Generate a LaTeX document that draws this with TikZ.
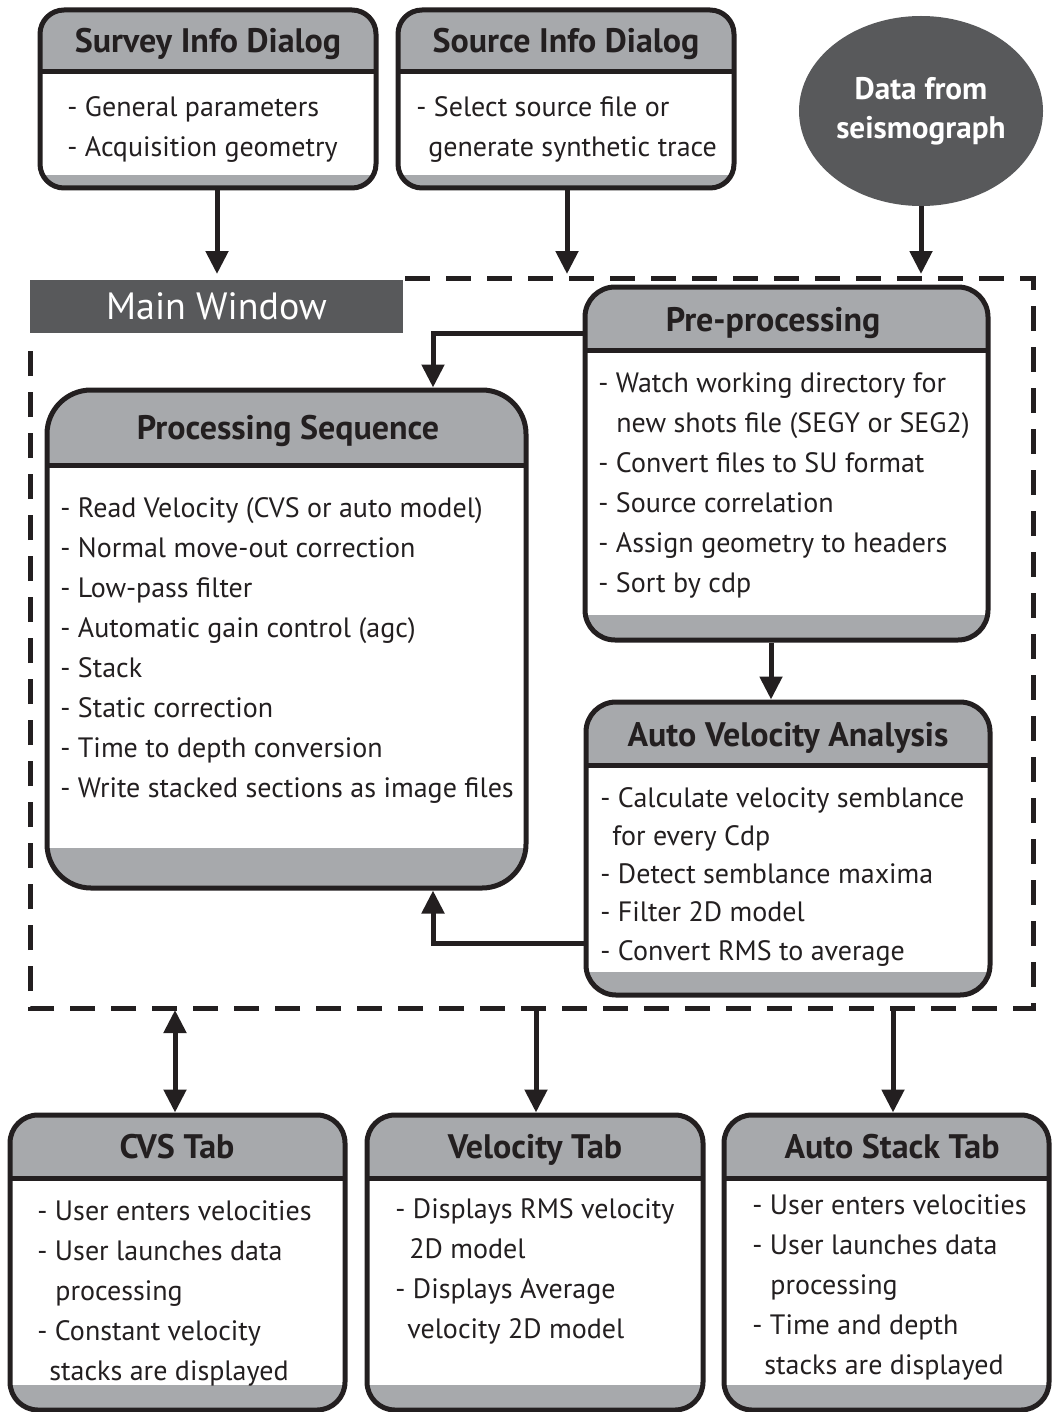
\documentclass[tikz,border=0pt]{standalone}
\usepackage{fontspec}
\setmainfont{PT Sans}
\usetikzlibrary{arrows.meta,shapes.geometric}
\definecolor{headgray}{HTML}{A7A9AC}
\definecolor{mwgray}{HTML}{58595B}
\definecolor{inkc}{HTML}{231F20}
\tikzset{
  tip/.tip={Triangle[length=11.5pt,width=11pt]},
  arr/.style={line width=2.5pt, draw=inkc, -tip},
  dblarr/.style={line width=2.5pt, draw=inkc, tip-tip},
  frameline/.style={line width=2.5pt, draw=inkc, dash pattern=on 12.5pt off 8pt},
  panelborder/.style={draw=inkc, line width=2.5pt, inner sep=0pt},
  paneltitle/.style={font=\fontsize{17}{20}\selectfont\bfseries, text=inkc, anchor=base, inner sep=0pt},
  panelbody/.style={font=\fontsize{14}{20}\selectfont, text=inkc, anchor=base west, align=left, inner sep=0pt},
}
% #1 name, #2 x1, #3 y1, #4 x2, #5 y2, #6 separator y, #7 strip y, #8 radius
\newcommand\panelbox[8]{%
  \begin{scope}
    \clip[rounded corners=#8] (#2,#3) rectangle (#4,#5);
    \fill[headgray] (#2,#3) rectangle (#4,#5);
    \fill[white] (#2,#6) rectangle (#4,#7);
    \draw[line width=2.5pt, inkc] (#2,#6) -- (#4,#6);
  \end{scope}
  \node[panelborder, rounded corners=#8,
        minimum width={(#4-#2)*0.5pt}, minimum height={(#5-#3)*0.5pt}]
        (#1) at ({(#2+#4)/2},{(#3+#5)/2}) {};
}
\begin{document}
\begin{tikzpicture}[x=0.5pt,y=-0.5pt]
\useasboundingbox (0,0) rectangle (1051,1412);

% top dialogs (body nodes are anchored at the baseline of their last line)
\panelbox{survey}{40}{10}{376}{188}{72}{175}{12pt}
\node[paneltitle] (surveyT) at (208,53) {Survey Info Dialog};
\node[panelbody] (surveyB) at (67,157) {- General parameters\\- Acquisition geometry};

\panelbox{source}{398}{10}{734}{188}{72}{175}{12pt}
\node[paneltitle] (sourceT) at (566,53) {Source Info Dialog};
\node[panelbody] (sourceB) at (416,157) {- Select source file or\\\hspace*{6pt}generate synthetic trace};

\node[ellipse, fill=mwgray, minimum width=244*0.5pt, minimum height=190*0.5pt, inner sep=0pt,
      text=white, font=\fontsize{15.6}{20}\selectfont\bfseries] (data) at (921,111)
      {\raisebox{-2pt}{\begin{tabular}{@{}c@{}}Data from\\[-0.5pt]seismograph\end{tabular}}};

% main window frame
\draw[frameline] (405,278) -- (1033,278) -- (1033,1008) -- (30,1008) -- (30,350);
\node[fill=mwgray, minimum width=373*0.5pt, minimum height=53*0.5pt, inner sep=0pt,
      text=white, font=\fontsize{19}{20}\selectfont] (mw) at (216.5,306.5) {Main Window};

\coordinate (inA) at (217,274);
\coordinate (inB) at (567,274);
\coordinate (inC) at (921,274);
\draw[arr] (survey.south -| inA) -- (inA);
\draw[arr] (source.south -| inB) -- (inB);
\draw[arr] (data.south) -- (inC);

% pre-processing
\panelbox{pre}{585}{287}{988}{640}{350}{615}{15pt}
\node[paneltitle] (preT) at (773,331) {Pre-processing};
\node[panelbody] (preB) at (598,592) {- Watch working directory for\\\hspace*{9pt}new shots file (SEGY or SEG2)\\- Convert files to SU format\\- Source correlation\\- Assign geometry to headers\\- Sort by cdp};

% processing sequence
\panelbox{proc}{47}{390}{526}{888}{465}{848}{22pt}
\node[paneltitle] (procT) at (288,439) {Processing Sequence};
\node[panelbody] (procB) at (60,797) {- Read Velocity (CVS or auto model)\\- Normal move-out correction\\- Low-pass filter\\- Automatic gain control (agc)\\- Stack\\- Static correction\\- Time to depth conversion\\- Write stacked sections as image files};

% auto velocity analysis
\panelbox{auto}{586}{702}{990}{995}{765}{972}{15pt}
\node[paneltitle] (autoT) at (788,746) {Auto Velocity Analysis};
\node[panelbody, font=\fontsize{14}{19.1}\selectfont] (autoB) at (600,960) {- Calculate velocity semblance\\\hspace*{6pt}for every Cdp\\- Detect semblance maxima\\- Filter 2D model\\- Convert RMS to average};

\coordinate (yA) at (0,333);
\coordinate (yB) at (0,943);
\coordinate (xA) at (433,0);
\coordinate (xB) at (771,0);
\draw[arr] (pre.west |- yA) -| (proc.north -| xA);
\draw[arr] (pre.south -| xB) -- (auto.north -| xB);
\draw[arr] (auto.west |- yB) -| (proc.south -| xA);

% bottom tabs
\panelbox{cvs}{10}{1115}{345}{1410}{1178}{1385}{14pt}
\node[paneltitle] (cvsT) at (177,1158) {CVS Tab};
\node[panelbody] (cvsB) at (37,1380) {- User enters velocities\\- User launches data\\\hspace*{9pt}processing\\- Constant velocity\\\hspace*{6pt}stacks are displayed};

\panelbox{vel}{367}{1115}{703}{1410}{1178}{1385}{14pt}
\node[paneltitle] (velT) at (535,1158) {Velocity Tab};
\node[panelbody] (velB) at (395,1338) {- Displays RMS velocity\\\hspace*{7pt}2D model\\- Displays Average\\\hspace*{6pt}velocity 2D model};

\panelbox{stack}{724}{1115}{1049}{1410}{1178}{1385}{14pt}
\node[paneltitle] (stackT) at (892,1158) {Auto Stack Tab};
\node[panelbody] (stackB) at (752,1374) {- User enters velocities\\- User launches data\\\hspace*{9pt}processing\\- Time and depth\\\hspace*{6pt}stacks are displayed};

\coordinate (outA) at (175,1010);
\coordinate (outB) at (536,1008);
\coordinate (outC) at (893,1008);
\draw[dblarr] (outA) -- (cvs.north -| outA);
\draw[arr] (outB) -- (vel.north -| outB);
\draw[arr] (outC) -- (stack.north -| outC);
\end{tikzpicture}
\end{document}
